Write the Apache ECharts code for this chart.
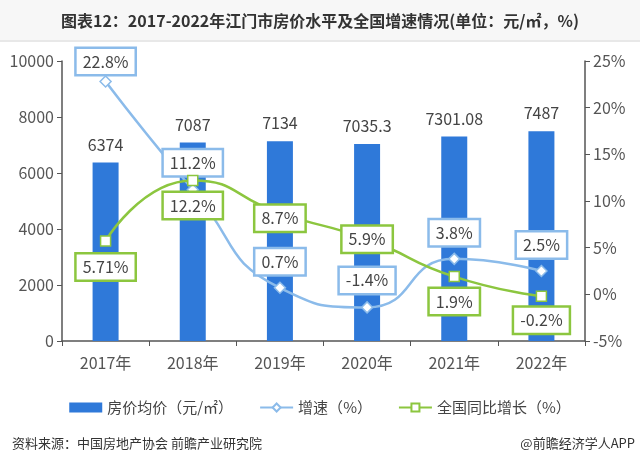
<!DOCTYPE html>
<html><head><meta charset="utf-8">
<script src="https://cdn.jsdelivr.net/npm/echarts@6/dist/echarts.min.js"></script>
<style>html,body{margin:0;padding:0;background:#fff}#c{width:640px;height:465px}</style>
</head><body><div id="c"></div>
<script>
var categories = ['2017年','2018年','2019年','2020年','2021年','2022年'];
var priceValues = [6374, 7087, 7134, 7035.3, 7301.08, 7487];
var priceLabels = ['6374','7087','7134','7035.3','7301.08','7487'];
var growthValues = [22.8, 11.2, 0.7, -1.4, 3.8, 2.5];
var growthLabels = ['22.8%','11.2%','0.7%','-1.4%','3.8%','2.5%'];
var nationalValues = [5.71, 12.2, 8.7, 5.9, 1.9, -0.2];
var nationalLabels = ['5.71%','12.2%','8.7%','5.9%','1.9%','-0.2%'];
var growthOffsets = [-20, -27, -26, -27, -26, -26];
var nationalOffsets = [26, 25, 5, 0, 25, 24];

var FONT = '"Noto Sans CJK SC", "Noto Sans", sans-serif';
var BLUE_BAR = '#2f79d9', BLUE_LINE = '#8bbbea', GREEN = '#8cc63f';

function boxLabel(txt, color, dy) {
  return { show: true, position: 'inside', offset: [0, dy], formatter: txt,
    backgroundColor: '#fff', borderColor: color, borderWidth: 2.5, padding: [5, 6, 4, 6],
    color: '#444', fontSize: 16, fontFamily: FONT };
}

var chart = echarts.init(document.getElementById('c'), null, {renderer: 'canvas'});
chart.setOption({
  backgroundColor: '#ffffff',
  animation: false,
  graphic: [
    {type: 'rect', left: 0, top: 0, shape: {width: 640, height: 40}, style: {fill: '#f7f7f7'}, z: -10},
    {type: 'rect', left: 0, top: 40, shape: {width: 640, height: 2}, style: {fill: '#e8e8e8'}, z: -10}
  ],
  title: [
    {text: '图表12：2017-2022年江门市房价水平及全国增速情况(单位：元/㎡，%)', left: 'center', top: 8,
     textStyle: {fontSize: 16, fontWeight: 'bold', color: '#333', fontFamily: FONT}},
    {text: '资料来源：中国房地产协会 前瞻产业研究院', left: 7, top: 432,
     textStyle: {fontSize: 13, fontWeight: 'normal', color: '#333', fontFamily: FONT}},
    {text: '@前瞻经济学人APP', right: 0, top: 432,
     textStyle: {fontSize: 13, fontWeight: 'normal', color: '#333', fontFamily: FONT}}
  ],
  legend: {
    top: 395, left: 'center', itemGap: 26, itemWidth: 33, itemHeight: 10,
    textStyle: {fontSize: 15, color: '#444', fontFamily: FONT},
    data: [
      {name: '房价均价（元/㎡）', icon: 'rect'},
      {name: '增速（%）'},
      {name: '全国同比增长（%）'}
    ]
  },
  grid: {left: 62, right: 55, top: 61, bottom: 124},
  xAxis: {
    type: 'category', data: categories, boundaryGap: true,
    axisLine: {lineStyle: {color: '#555', width: 1.5}},
    axisTick: {show: true, length: 5, lineStyle: {color: '#555'}},
    axisLabel: {fontSize: 16, color: '#555', margin: 14, fontFamily: FONT}
  },
  yAxis: [
    {type: 'value', min: 0, max: 10000, interval: 2000,
     axisLine: {show: true, lineStyle: {color: '#555', width: 1.5}},
     axisTick: {show: true, length: 5, lineStyle: {color: '#555'}},
     splitLine: {show: false},
     axisLabel: {fontSize: 16, color: '#555', margin: 8, fontFamily: FONT,
       formatter: function (v) { return String(v); }}},
    {type: 'value', min: -5, max: 25, interval: 5, position: 'right',
     axisLine: {show: true, lineStyle: {color: '#555', width: 1.5}},
     axisTick: {show: true, length: 5, lineStyle: {color: '#555'}},
     splitLine: {show: false},
     axisLabel: {fontSize: 16, color: '#555', margin: 8, formatter: '{value}%', fontFamily: FONT}}
  ],
  series: [
    {name: '房价均价（元/㎡）', type: 'bar', yAxisIndex: 0, barWidth: 26,
     itemStyle: {color: BLUE_BAR},
     data: priceValues,
     label: {show: true, position: 'top', distance: 10, fontSize: 16, color: '#444', fontFamily: FONT,
       formatter: function (p) { return priceLabels[p.dataIndex]; }},
     z: 1},
    {name: '增速（%）', type: 'line', yAxisIndex: 1, smooth: 0.55,
     symbol: 'diamond', symbolSize: 11,
     lineStyle: {color: BLUE_LINE, width: 2.5},
     itemStyle: {color: '#fff', borderColor: BLUE_LINE, borderWidth: 1.5},
     data: growthValues.map(function (v, i) { return {value: v, label: boxLabel(growthLabels[i], BLUE_LINE, growthOffsets[i])}; }),
     z: 3},
    {name: '全国同比增长（%）', type: 'line', yAxisIndex: 1, smooth: 0.55,
     symbol: 'rect', symbolSize: 10,
     lineStyle: {color: GREEN, width: 2.5},
     itemStyle: {color: '#fff', borderColor: GREEN, borderWidth: 1.5},
     data: nationalValues.map(function (v, i) { return {value: v, label: boxLabel(nationalLabels[i], GREEN, nationalOffsets[i])}; }),
     z: 4}
  ]
});
</script></body></html>
